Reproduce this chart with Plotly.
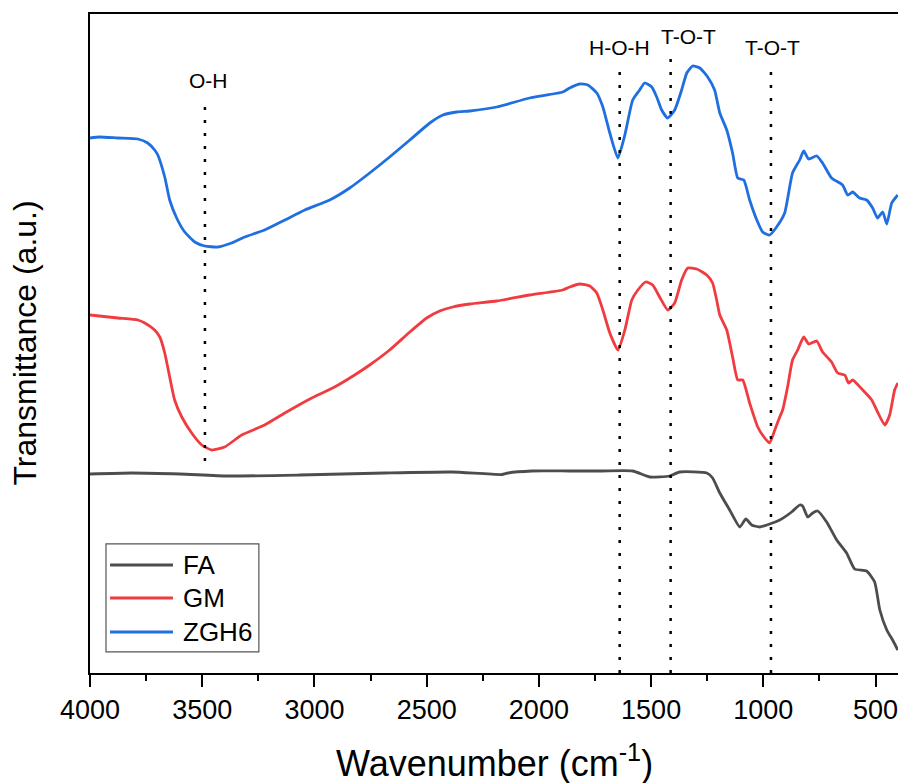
import plotly.graph_objects as go

# ---- data ----
zgh6_wn = [4000, 3957, 3876, 3787, 3743, 3712, 3698, 3667, 3645, 3614, 3578, 3533, 3489, 3431, 3369, 3311,
           3222, 3132, 3043, 2932, 2843, 2754, 2665, 2575, 2486, 2428, 2366, 2308, 2188, 2041, 1894, 1863,
           1818, 1782, 1742, 1715, 1684, 1648, 1617, 1582, 1551, 1529, 1497, 1475, 1453, 1426, 1395, 1364,
           1341, 1315, 1283, 1248, 1217, 1194, 1163, 1137, 1114, 1087, 1061, 1029, 1003, 972, 941, 905,
           870, 838, 820, 798, 762, 736, 696, 647, 624, 602, 571, 540, 513, 491, 468, 450, 428, 401]
zgh6_t = [5.35, 5.36, 5.35, 5.34, 5.30, 5.23, 5.18, 4.96, 4.73, 4.55, 4.41, 4.31, 4.27, 4.26, 4.30, 4.36,
          4.43, 4.53, 4.63, 4.73, 4.85, 5.00, 5.16, 5.33, 5.50, 5.58, 5.61, 5.62, 5.66, 5.75, 5.81, 5.85,
          5.89, 5.88, 5.80, 5.66, 5.40, 5.15, 5.38, 5.73, 5.83, 5.90, 5.86, 5.76, 5.63, 5.55, 5.63, 5.83,
          6.00, 6.07, 6.05, 5.96, 5.83, 5.60, 5.43, 5.20, 4.95, 4.93, 4.73, 4.53, 4.41, 4.38, 4.46, 4.60,
          5.00, 5.13, 5.22, 5.14, 5.17, 5.10, 4.95, 4.88, 4.78, 4.81, 4.75, 4.73, 4.65, 4.55, 4.61, 4.49, 4.70, 4.78]

gm_wn = [4000, 3876, 3787, 3756, 3712, 3689, 3667, 3645, 3623, 3591, 3547, 3502, 3458, 3400, 3324, 3222,
         3132, 3012, 2910, 2821, 2754, 2665, 2575, 2500, 2442, 2384, 2308, 2188, 2041, 1894, 1863, 1818,
         1773, 1742, 1715, 1684, 1648, 1617, 1586, 1559, 1524, 1493, 1462, 1426, 1395, 1364, 1337, 1297,
         1252, 1226, 1208, 1194, 1163, 1137, 1114, 1092, 1061, 1025, 994, 972, 949, 927, 914, 892, 870,
         847, 820, 798, 762, 736, 696, 669, 637, 620, 602, 557, 517, 491, 459, 437, 415, 401]
gm_t = [3.58, 3.55, 3.53, 3.50, 3.43, 3.36, 3.20, 2.96, 2.73, 2.56, 2.40, 2.28, 2.23, 2.26, 2.38, 2.48,
        2.60, 2.75, 2.86, 2.98, 3.08, 3.23, 3.41, 3.55, 3.62, 3.66, 3.69, 3.72, 3.78, 3.83, 3.86, 3.89,
        3.87, 3.80, 3.63, 3.40, 3.23, 3.43, 3.73, 3.83, 3.91, 3.88, 3.76, 3.63, 3.70, 3.93, 4.05, 4.04,
        3.98, 3.90, 3.73, 3.58, 3.43, 3.16, 2.93, 2.93, 2.70, 2.46, 2.35, 2.30, 2.43, 2.56, 2.63, 2.86, 3.13,
        3.23, 3.36, 3.29, 3.32, 3.21, 3.11, 3.00, 2.98, 2.90, 2.93, 2.83, 2.73, 2.61, 2.48, 2.58, 2.83, 2.90]

fa_wn = [4000, 3814, 3600, 3386, 3065, 2687, 2388, 2165, 2138, 2032, 1863, 1720, 1582, 1506, 1417, 1373,
         1252, 1226, 1194, 1150, 1105, 1078, 1052, 1016, 972, 927, 874, 838, 825, 802, 780, 758, 718,
         673, 629, 593, 540, 504, 481, 450, 424, 401]
fa_t = [1.99, 2.00, 1.99, 1.97, 1.98, 2.00, 2.01, 1.985, 2.00, 2.02, 2.02, 2.02, 2.02, 1.96, 1.97, 2.01,
        2.00, 1.95, 1.80, 1.63, 1.46, 1.54, 1.48, 1.46, 1.49, 1.53, 1.61, 1.68, 1.67, 1.56, 1.60, 1.62, 1.51,
        1.33, 1.20, 1.04, 1.02, 0.91, 0.63, 0.43, 0.33, 0.23]

series_names = ["FA", "GM", "ZGH6"]
series_colors = ["#4d4d4d", "#f03c40", "#1f6fe0"]

# band markers: label, line position, line top/bottom, label position, label height
band_labels = ["O-H", "H-O-H", "T-O-T", "T-O-T"]
band_wn = [3488, 1640, 1413, 966]
band_top = [5.76, 6.10, 6.16, 6.06]
band_bottom = [2.12, 0.0, 0.0, 0.0]
label_wn = [3470, 1640, 1332, 957]
label_t = [5.93, 6.26, 6.37, 6.26]

x_ticks = [4000, 3500, 3000, 2500, 2000, 1500, 1000, 500]

FONT = "Arial, Liberation Sans, sans-serif"

fig = go.Figure()
for name, wn, t, col in zip(series_names, [fa_wn, gm_wn, zgh6_wn], [fa_t, gm_t, zgh6_t], series_colors):
    fig.add_trace(go.Scatter(x=wn, y=t, mode="lines", name=name, showlegend=False,
                             line=dict(color=col, width=2.8, shape="spline", smoothing=0.5)))

for wn, top, bot in zip(band_wn, band_top, band_bottom):
    fig.add_shape(type="line", xref="x", yref="y", x0=wn, x1=wn, y0=bot, y1=top,
                  line=dict(color="black", width=2.5, dash="3px,10px"))

for lab, wn, t in zip(band_labels, label_wn, label_t):
    fig.add_annotation(x=wn, y=t, xref="x", yref="y", text=lab, showarrow=False,
                       font=dict(family=FONT, size=21, color="black"))

# legend box (drawn in paper coordinates)
leg_box = dict(x0=0.0198, x1=0.209, y0=0.032, y1=0.196)
leg_line_x = (0.0248, 0.1027)
leg_text_x = 0.1126
leg_rows_y = [0.1639, 0.1138, 0.0622]
fig.add_shape(type="rect", xref="paper", yref="paper", **leg_box,
              line=dict(color="#555555", width=1.2), fillcolor="white", layer="above")
for name, col, yy in zip(series_names, series_colors, leg_rows_y):
    fig.add_shape(type="line", xref="paper", yref="paper", x0=leg_line_x[0], x1=leg_line_x[1],
                  y0=yy, y1=yy, line=dict(color=col, width=3), layer="above")
    fig.add_annotation(xref="paper", yref="paper", x=leg_text_x, y=yy, text=name, showarrow=False,
                       xanchor="left", yanchor="middle",
                       font=dict(family=FONT, size=26, color="black"))

fig.add_annotation(xref="paper", yref="paper", x=0, y=0.5, xshift=-66, text="Transmittance (a.u.)",
                   textangle=-90, showarrow=False, xanchor="center", yanchor="middle",
                   font=dict(family=FONT, size=32, color="black"))
fig.add_annotation(xref="paper", yref="paper", x=0.5, y=0, yshift=-88, text="Wavenumber (cm<sup>-1</sup>)",
                   showarrow=False, xanchor="center", yanchor="middle",
                   font=dict(family=FONT, size=36, color="black"))

fig.update_layout(
    width=898, height=783,
    margin=dict(l=90, r=0, t=14, b=110),
    paper_bgcolor="white", plot_bgcolor="white",
    font=dict(family=FONT, color="black"),
    showlegend=False,
    xaxis=dict(range=[4000, 400], tickvals=x_ticks, ticktext=[str(v) for v in x_ticks],
               ticklabeloverflow="allow",
               showline=True, linecolor="black", linewidth=2, mirror=True,
               ticks="outside", ticklen=12, tickwidth=2, tickcolor="black",
               minor=dict(ticks="outside", ticklen=6, tickwidth=2, tickcolor="black", dtick=250,
                          tick0=250, showgrid=False),
               showgrid=False, zeroline=False,
               tickfont=dict(family=FONT, size=27, color="black")),
    yaxis=dict(range=[0, 6.59], showline=True, linecolor="black", linewidth=2, mirror=False,
               ticks="", showticklabels=False, showgrid=False, zeroline=False),
)

fig.write_html("out.html", config={"displayModeBar": False},
               post_script="document.body.style.margin='0';document.body.style.overflow='hidden';")
